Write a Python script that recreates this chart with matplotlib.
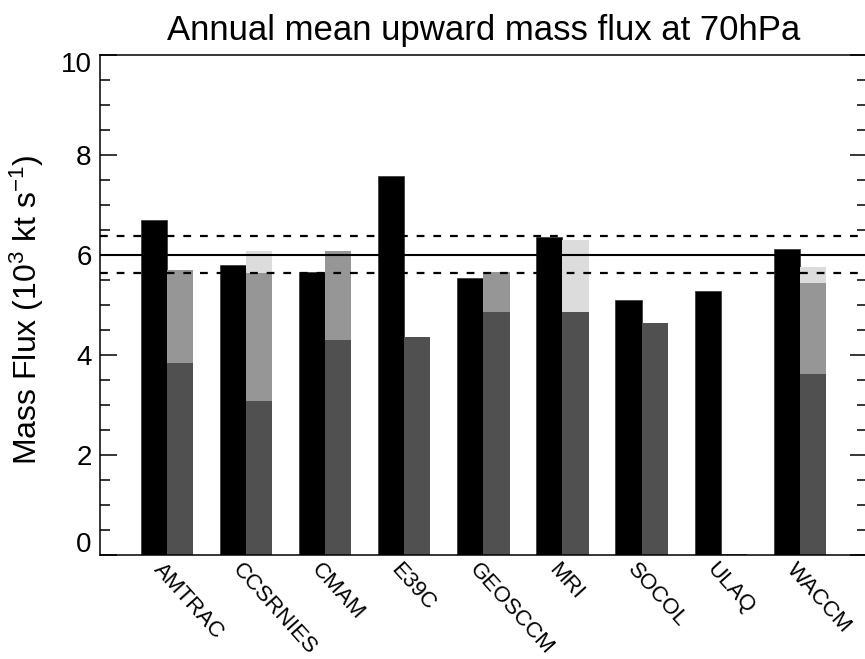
import numpy as np
import matplotlib
matplotlib.use("Agg")
import matplotlib.pyplot as plt
import matplotlib.transforms as mtransforms

# ---- data ----
models = ["AMTRAC", "CCSRNIES", "CMAM", "E39C", "GEOSCCM", "MRI", "SOCOL", "ULAQ", "WACCM"]
total_flux = [6.70, 5.80, 5.65, 7.57, 5.53, 6.35, 5.10, 5.27, 6.12]
resolved_waves = [3.83, 3.09, 4.31, 4.35, 4.85, 4.85, 4.63, 0.03, 3.62]
orographic_gw = [1.86, 2.54, 1.76, 0.00, 0.80, 0.00, 0.00, 0.00, 1.81]
nonorographic_gw = [0.00, 0.44, 0.00, 0.00, 0.00, 1.44, 0.00, 0.00, 0.32]
mmm_mean = 6.0
mmm_range = [6.38, 5.63]
yticks_major = [0, 2, 4, 6, 8, 10]
title = "Annual mean upward mass flux at 70hPa"
ylabel = "Mass Flux (10$^3$ kt s$^{-1}$)"

# ---- style ----
plt.rcParams['font.family'] = ['Liberation Sans', 'DejaVu Sans']
plt.rcParams['mathtext.default'] = 'regular'

W, H = 865, 659
fig = plt.figure(figsize=(W / 100, H / 100), dpi=100)
ax_left, ax_right, ax_top, ax_bottom = 100, 867, 55, 555
ax = fig.add_axes([ax_left / W, 1 - ax_bottom / H, (ax_right - ax_left) / W, (ax_bottom - ax_top) / H])

x = np.arange(len(models))
bw = 0.33
ax.bar(x - bw / 2, total_flux, width=bw, color='black', edgecolor='#303030', linewidth=0.5, zorder=2)

# stacked components, drawn as cumulative bars (largest first) to avoid seams
res = np.array(resolved_waves)
oro = np.array(orographic_gw)
non = np.array(nonorographic_gw)
for cum, col in [(res + oro + non, '#dcdcdc'), (res + oro, '#969696'), (res, '#505050')]:
    ax.bar(x + bw / 2, cum, width=bw, color=col, linewidth=0, zorder=2)

ax.axhline(mmm_mean, color='black', lw=1.5, zorder=3)
for v in mmm_range:
    ax.axhline(v, color='black', lw=1.6, ls=(0, (3.5, 4)), zorder=3)

px_per_unit = 79.1
x0 = -(167 - ax_left) / px_per_unit
ax.set_xlim(x0, x0 + (ax_right - ax_left) / px_per_unit)
ax.set_ylim(0, 10)

ax.set_yticks(yticks_major)
ax.set_yticks(np.arange(0, 10.01, 0.5), minor=True)
ax.tick_params(axis='y', which='both', direction='in', left=True, right=True, width=1.1)
ax.tick_params(axis='y', which='major', length=12, labelsize=20, pad=6)
ax.tick_params(axis='y', which='minor', length=7)

ax.set_xticks(x - 0.03)
ax.set_xticklabels(models, rotation=-48, ha='left', va='top', rotation_mode='anchor', fontsize=16)
ax.tick_params(axis='x', length=0, pad=3)

# end labels sit inside the axis range as in the reference
for lab in ax.get_yticklabels():
    t = lab.get_text()
    if t == '0':
        lab.set_transform(lab.get_transform() + mtransforms.ScaledTranslation(0, 13 / 100, fig.dpi_scale_trans))
    elif t == '10':
        lab.set_transform(lab.get_transform() + mtransforms.ScaledTranslation(0, -7 / 100, fig.dpi_scale_trans))

for s in ax.spines.values():
    s.set_linewidth(1.1)

ax.set_title(title, fontsize=25, pad=11)
ax.set_ylabel(ylabel, fontsize=23)
ax.yaxis.set_label_coords((27 - ax_left) / (ax_right - ax_left), 0.49)
ax.yaxis.label.set_verticalalignment('center')

fig.savefig("out.png", dpi=100)
